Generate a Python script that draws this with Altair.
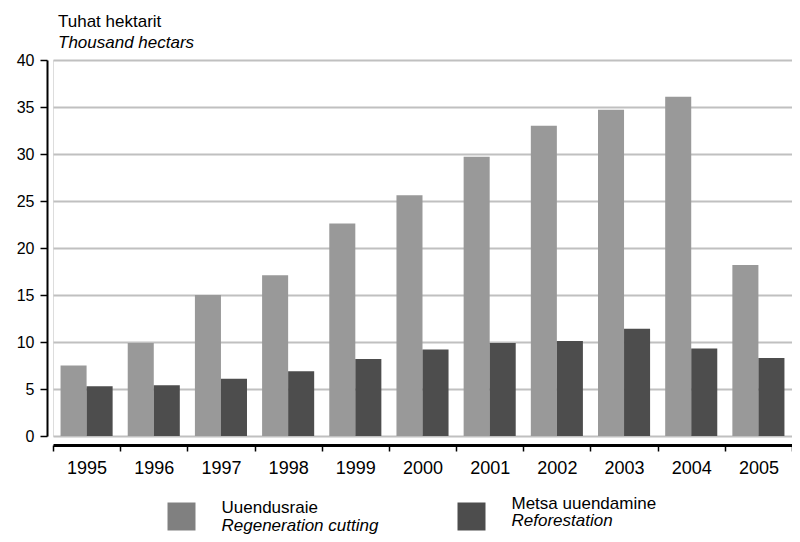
import altair as alt
import pandas as pd

years = [str(y) for y in range(1995, 2006)]
regeneration = [7.5, 9.9, 15.0, 17.1, 22.6, 25.6, 29.7, 33.0, 34.7, 36.1, 18.2]
reforestation = [5.3, 5.4, 6.1, 6.9, 8.2, 9.2, 9.9, 10.1, 11.4, 9.3, 8.3]
series_et = ["Uuendusraie", "Metsa uuendamine"]
series_en = ["Regeneration cutting", "Reforestation"]
bar_colors = ["#999999", "#4d4d4d"]
legend_colors = ["#808080", "#4d4d4d"]
y_ticks = [0, 5, 10, 15, 20, 25, 30, 35, 40]

FONT = "Liberation Sans"

rows = []
for i, yr in enumerate(years):
    rows.append({"year": yr, "series": series_et[0], "value": regeneration[i]})
    rows.append({"year": yr, "series": series_et[1], "value": reforestation[i]})
df = pd.DataFrame(rows)
leg = pd.DataFrame({"series": series_et, "et": series_et, "en": series_en})

bars = alt.Chart(df).mark_bar().encode(
    x=alt.X("year:N", sort=years,
            scale=alt.Scale(paddingInner=0, paddingOuter=0),
            axis=alt.Axis(title=None, labelAngle=0, tickBand="extent", offset=9,
                          domainColor="black", domainWidth=3, tickColor="black",
                          tickWidth=1.5, tickSize=6, labelFontSize=18, labelPadding=8,
                          labelColor="black", labelFont=FONT, grid=False)),
    xOffset=alt.XOffset("series:N", sort=series_et,
                        scale=alt.Scale(domain=series_et, paddingOuter=0.29, paddingInner=0)),
    y=alt.Y("value:Q", scale=alt.Scale(domain=[0, 40]),
            axis=alt.Axis(title=None, values=y_ticks, offset=6, domainColor="black",
                          domainWidth=2, tickColor="black", tickWidth=1.5, tickSize=7,
                          labelFontSize=16, labelPadding=6, labelColor="black",
                          labelFont=FONT, grid=True, gridColor="#c0c0c0", gridWidth=2)),
    color=alt.Color("series:N", sort=series_et,
                    scale=alt.Scale(domain=series_et, range=bar_colors), legend=None),
)

lx = alt.X("series:N", sort=series_et,
           scale=alt.Scale(type="point", domain=series_et, range=[128.5, 418.5], padding=0),
           axis=None)

squares = alt.Chart(leg).mark_square(size=784, opacity=1).encode(
    x=lx, y=alt.value(456.5),
    color=alt.Color("series:N", scale=alt.Scale(domain=series_et, range=legend_colors), legend=None),
)

def label(idx, field, ypix, italic):
    return alt.Chart(leg).transform_filter(alt.datum.series == series_et[idx]).mark_text(
        align="left", baseline="alphabetic", dx=40, fontSize=17, font=FONT,
        fontStyle="italic" if italic else "normal", color="black",
    ).encode(x=lx, y=alt.value(ypix), text=f"{field}:N")

legend_layer = alt.layer(
    squares,
    label(0, "et", 453.2, False), label(0, "en", 471, True),
    label(1, "et", 448.5, False), label(1, "en", 465.8, True),
)

chart = alt.layer(bars, legend_layer).resolve_scale(
    x="independent", color="independent"
).properties(
    width=739, height=376,
    autosize=alt.AutoSizeParams(type="none"),
    padding={"left": 45, "top": 52, "right": 0, "bottom": 98},
    title=alt.TitleParams(text="Tuhat hektarit", subtitle="Thousand hectars",
                          anchor="start", frame="group", fontSize=17, fontWeight="normal",
                          subtitleFontSize=17, subtitleFontStyle="italic", color="black",
                          subtitleColor="black", dx=5, offset=0, subtitlePadding=4,
                          font=FONT, subtitleFont=FONT),
).configure_view(strokeWidth=0).configure(font=FONT)

chart.save("out.html", embed_options={"renderer": "svg", "actions": False})
